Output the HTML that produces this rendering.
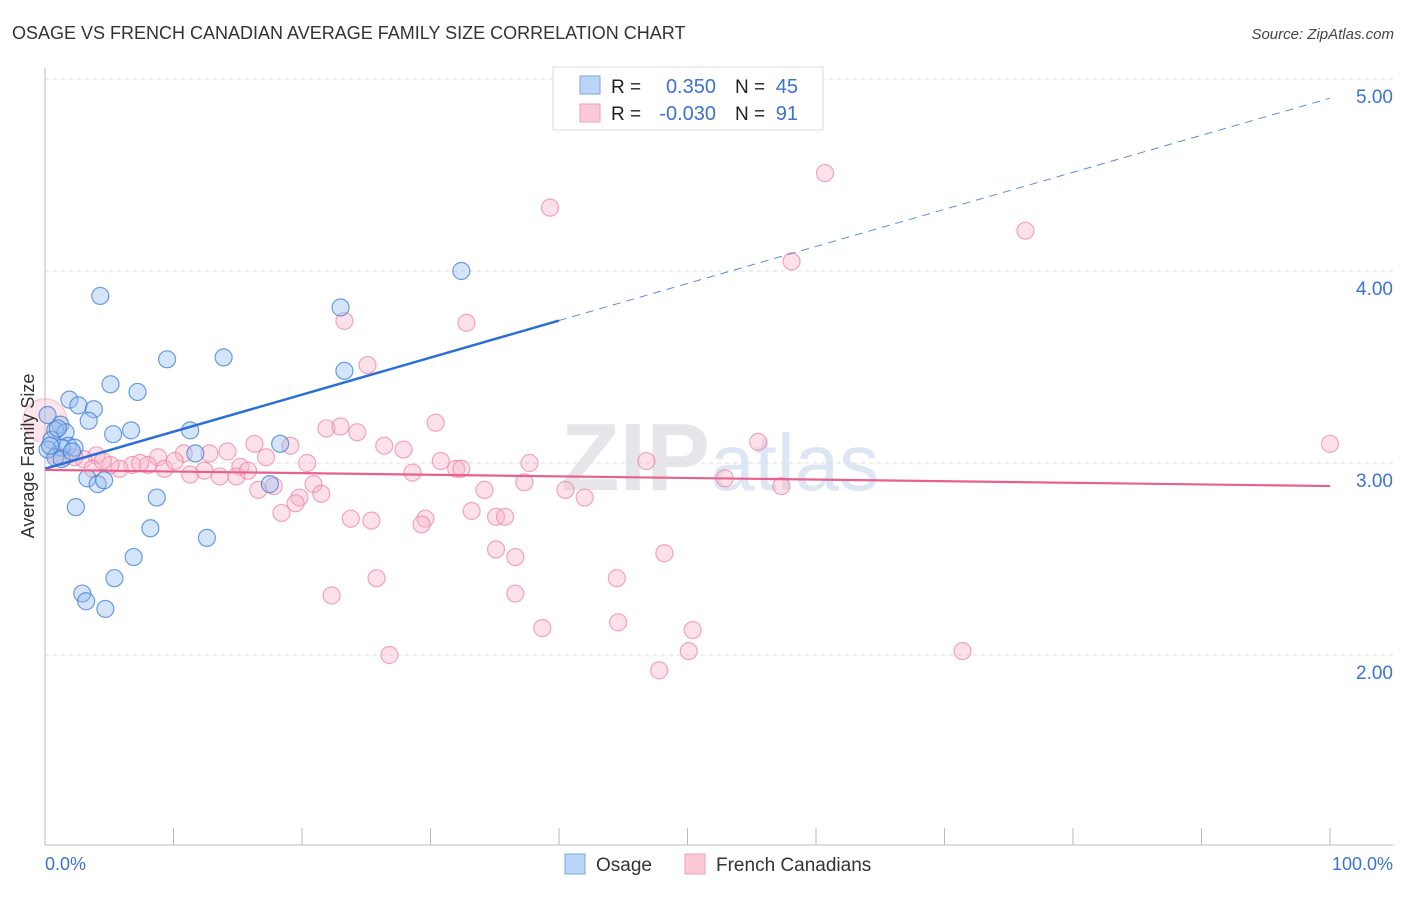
<!DOCTYPE html>
<html><head><meta charset="utf-8"><style>
body{margin:0;background:#fff;font-family:"Liberation Sans",sans-serif;}
svg text{font-family:"Liberation Sans",sans-serif;}
</style></head><body>
<svg id="chart" width="1406" height="892">
<text x="12" y="39" font-size="18" fill="#333">OSAGE VS FRENCH CANADIAN AVERAGE FAMILY SIZE CORRELATION CHART</text>
<text x="1394" y="39" font-size="15" fill="#444" font-style="italic" text-anchor="end">Source: ZipAtlas.com</text>
<text x="720" y="490" font-size="96" fill="#e8e8ec" text-anchor="middle" font-family="Liberation Serif"><tspan font-weight="bold" fill="#e6e6ea">ZIP</tspan><tspan font-family="Liberation Sans" fill="#dde6f4" font-size="80">atlas</tspan></text>
<g id="grid"></g>
<g id="axes"></g>
<g id="pinkpts"></g>
<g id="bluepts"></g>
<g id="lines"></g>
<text transform="translate(34,456) rotate(-90)" font-size="18" fill="#333" text-anchor="middle">Average Family Size</text>
<text x="45" y="870" font-size="18" fill="#3b73d0">0.0%</text>
<text x="1393" y="870" font-size="18" fill="#3b73d0" text-anchor="end">100.0%</text>
<g>
<rect x="553" y="67" width="270" height="63" fill="#fff" stroke="#ddd"/>
<rect x="580" y="76" width="20" height="18" fill="#bcd4f6" stroke="#7aa6e8"/>
<rect x="580" y="104" width="20" height="18" fill="#fbc9d8" stroke="#f0a0b8"/>
<text x="611" y="93" font-size="19" fill="#222">R =</text><text x="716" y="93" font-size="20" fill="#3b73d0" text-anchor="end">0.350</text>
<text x="735" y="93" font-size="19" fill="#222">N =</text><text x="798" y="93" font-size="20" fill="#3b73d0" text-anchor="end">45</text>
<text x="611" y="120" font-size="19" fill="#222">R =</text><text x="716" y="120" font-size="20" fill="#3b73d0" text-anchor="end">-0.030</text>
<text x="735" y="120" font-size="19" fill="#222">N =</text><text x="798" y="120" font-size="20" fill="#3b73d0" text-anchor="end">91</text>
</g>
<g>
<rect x="565" y="854" width="20" height="20" fill="#bcd4f6" stroke="#7aa6e8"/>
<text x="596" y="871" font-size="19" fill="#333">Osage</text>
<rect x="685" y="854" width="20" height="20" fill="#fbc9d8" stroke="#f0a0b8"/>
<text x="716" y="871" font-size="19" fill="#333">French Canadians</text>
</g>
</svg>
<script>
const yTicks=[2,3,4,5];
const yTickLabels=["2.00","3.00","4.00","5.00"];
const osageX=[4.3,9.5,13.9,5.1,7.2,1.9,2.6,3.8,3.4,1.2,0.2,0.8,1.6,0.5,1.8,2.3,1.3,5.3,6.7,11.3,18.3,11.7,23.0,32.4,23.3,3.3,4.1,4.6,17.5,8.7,2.4,8.2,12.6,6.9,5.4,2.9,3.2,4.7,0.2,0.8,1.3,1.0,2.1,0.4];
const osageY=[3.87,3.54,3.55,3.41,3.37,3.33,3.30,3.28,3.22,3.20,3.25,3.17,3.16,3.12,3.09,3.08,3.08,3.15,3.17,3.17,3.10,3.05,3.81,4.00,3.48,2.92,2.89,2.91,2.89,2.82,2.77,2.66,2.61,2.51,2.40,2.32,2.28,2.24,3.07,3.03,3.02,3.18,3.06,3.09];
const frenchX=[60.7,39.3,76.3,58.1,23.3,32.8,25.1,30.4,100,55.5,21.9,23.0,24.3,26.4,27.9,19.1,16.3,30.8,32.0,32.4,37.7,46.8,28.6,52.9,57.3,20.4,17.2,15.2,14.2,12.8,10.8,8.8,8.0,6.8,5.8,5.1,4.0,3.0,2.3,1.5,0.9,3.7,4.5,7.4,9.3,10.1,11.3,12.4,13.6,14.9,15.8,16.6,17.8,19.8,19.5,18.4,20.9,21.5,23.8,25.4,29.6,29.3,33.2,35.1,35.8,37.3,40.5,42.0,34.2,35.1,36.6,48.2,44.5,25.8,22.3,36.6,44.6,50.4,38.7,50.1,47.8,26.8,71.4];
const frenchY=[4.51,4.33,4.21,4.05,3.74,3.73,3.51,3.21,3.10,3.11,3.18,3.19,3.16,3.09,3.07,3.09,3.10,3.01,2.97,2.97,3.00,3.01,2.95,2.92,2.88,3.00,3.03,2.98,3.06,3.05,3.05,3.03,2.99,2.99,2.97,2.99,3.04,3.02,3.03,3.03,3.04,2.97,3.01,3.00,2.97,3.01,2.94,2.96,2.93,2.93,2.96,2.86,2.88,2.82,2.79,2.74,2.89,2.84,2.71,2.70,2.71,2.68,2.75,2.72,2.72,2.90,2.86,2.82,2.86,2.55,2.51,2.53,2.40,2.40,2.31,2.32,2.17,2.13,2.14,2.02,1.92,2.00,2.02];
const osageTrend=[2.97,4.90];
const frenchTrend=[2.964,2.88];
const NS='http://www.w3.org/2000/svg';
const X=v=>45+v*12.85;
const Y=v=>463-(v-3)*192;
function mk(tag,attrs,parent){const e=document.createElementNS(NS,tag);for(const k in attrs)e.setAttribute(k,attrs[k]);document.getElementById(parent).appendChild(e);return e;}
yTicks.forEach((t,i)=>{
  const g=mk('line',{x1:45,x2:1393,y1:Y(t),y2:Y(t),stroke:'#ddd','stroke-dasharray':'4,4'},'grid');
  
  
  const l=mk('text',{x:1393,y:Y(t)+24,'font-size':19,fill:'#3b73d0','text-anchor':'end'},'grid');
  l.textContent=yTickLabels[i];
  
  
});
let a=mk('line',{x1:45,x2:45,y1:68,y2:845,stroke:'#bbb'},'axes');


a=mk('line',{x1:45,x2:1393,y1:845,y2:845,stroke:'#bbb'},'axes');


for(let i=0;i<=10;i++){const t=mk('line',{x1:X(i*10),x2:X(i*10),y1:828,y2:845,stroke:'#bbb'},'axes');

}
const big=mk('circle',{cx:X(0),cy:Y(3.22),r:22,fill:'rgba(248,180,200,0.35)',stroke:'rgba(240,140,170,0.5)'},'pinkpts');


frenchX.forEach((x,i)=>{const c=mk('circle',{cx:X(x),cy:Y(frenchY[i]),r:8.5,fill:'rgba(248,180,200,0.4)',stroke:'rgba(238,130,165,0.7)','stroke-width':1.2},'pinkpts');

});
osageX.forEach((x,i)=>{const c=mk('circle',{cx:X(x),cy:Y(osageY[i]),r:8.5,fill:'rgba(150,190,240,0.4)',stroke:'rgba(60,125,215,0.75)','stroke-width':1.2},'bluepts');

});
const oy=x=>osageTrend[0]+(osageTrend[1]-osageTrend[0])*x/100;
let ln=mk('line',{x1:X(0),y1:Y(oy(0)),x2:X(40),y2:Y(oy(40)),stroke:'#2a6fd6','stroke-width':2.5},'lines');


ln=mk('line',{x1:X(40),y1:Y(oy(40)),x2:X(100),y2:Y(oy(100)),stroke:'#5a8fd8','stroke-width':1,'stroke-dasharray':'8,6'},'lines');


ln=mk('line',{x1:X(0),y1:Y(frenchTrend[0]),x2:X(100),y2:Y(frenchTrend[1]),stroke:'#e8608e','stroke-width':2.2},'lines');


</script>
</body></html>
